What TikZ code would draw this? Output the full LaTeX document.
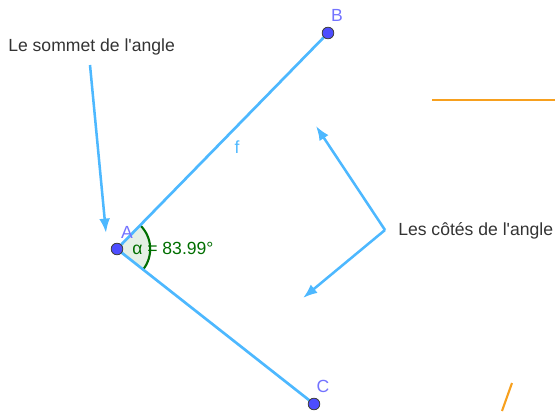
\documentclass[tikz,border=0pt]{standalone}
\usepackage{fontspec}
\setmainfont{Liberation Sans}[Ligatures=TeXOff]
\usetikzlibrary{arrows.meta}

\definecolor{segblue}{RGB}{77,184,255}
\definecolor{ptblue}{RGB}{77,77,255}
\definecolor{lblblue}{RGB}{115,115,255}
\definecolor{anggreen}{RGB}{0,110,0}
\definecolor{orng}{RGB}{247,160,30}

\begin{document}
\begin{tikzpicture}[x=0.025cm,y=-0.025cm,>={Latex[length=3.6mm,width=2.7mm]},
  seg/.style={segblue,line width=1.9pt},
  pt/.style={circle,fill=ptblue,draw=black!75,line width=0.6pt,inner sep=0pt,minimum size=0.29cm},
  lbl/.style={text=lblblue,font=\fontsize{12.5}{15}\selectfont,inner sep=0pt},
  txt/.style={font=\fontsize{12.5}{15}\selectfont,text=black!80,inner sep=0pt,anchor=west},
  pointer/.style={->,segblue,line width=1.8pt}]

\useasboundingbox (0,0) rectangle (555,414);

% The angle and its two sides
\coordinate (A) at (117,249);
\coordinate (B) at (328,33);
\coordinate (C) at (314,404);

\fill[anggreen,fill opacity=0.1] (A) -- ++(45.67:0.83cm) arc[start angle=45.67,end angle=-38.2,radius=0.83cm] -- cycle;
\draw[anggreen,line width=1.5pt] (A) ++(45.67:0.83cm) arc[start angle=45.67,end angle=-38.2,radius=0.83cm];

\draw[seg] (A) -- (B);
\draw[seg] (A) -- (C);
\node[text=segblue,font=\fontsize{12.5}{15}\selectfont,inner sep=0pt] (f) at (237,147) {f};

\node[text=anggreen,font=\fontsize{12.5}{15}\selectfont,anchor=west,inner sep=0pt] (alpha) at (132,248) {α = 83.99°};

% Points and their names
\foreach \p/\lx/\ly in {A/127/232, B/337/15, C/323/386} {
  \node[pt] (\p pt) at (\p) {};
  \node[lbl] (\p lab) at (\lx,\ly) {\p};
}

% Texts with pointers
\node[txt] (sommet) at (8,47) {Le sommet de l'angle};
\node[txt] (cotes) at (398,231) {Les côtés de l'angle};

\coordinate (s1) at (90,65);
\coordinate (e1) at (106,233);
\coordinate (k) at (385,230);
\coordinate (e2) at (316,126);
\coordinate (e3) at (303,298);
\draw[pointer] (s1) -- (e1);
\draw[pointer] (k) -- (e2);
\draw[pointer] (k) -- (e3);

% Orange marks at the border
\draw[orng,line width=1.5pt] (432,100) -- (555,100);
\draw[orng,line width=1.5pt] (502,411) -- (512,383);

\end{tikzpicture}
\end{document}
